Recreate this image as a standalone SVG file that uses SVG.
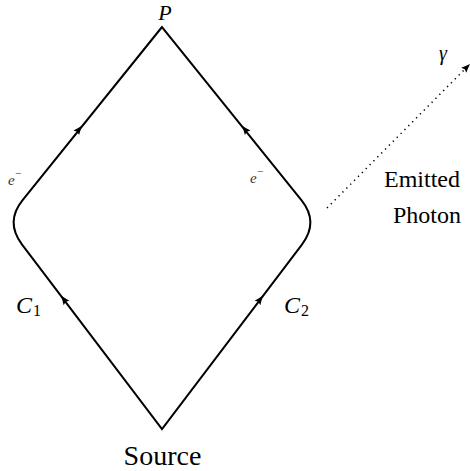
<svg xmlns="http://www.w3.org/2000/svg" width="470" height="471" viewBox="0 0 470 471">
<defs>
  <path id="arrowhead" fill="#000" d="M1.5,0 C-1.5,-1 -4.5,-2.4 -7.5,-3.6 L-6,0 L-7.5,3.6 C-4.5,2.4 -1.5,1 1.5,0 Z"/>
</defs>
<rect width="470" height="471" fill="#fff"/>
<g id="connectors" fill="none" stroke="#000">
  <path stroke-width="2" stroke-linejoin="miter" stroke-miterlimit="10" d="M162,27 L22.6,200.2 Q5,222 21.9,244.3 L162,429 L302.1,244.3 Q319,222 301.4,200.2 Z"/>
  <use href="#arrowhead" stroke="none" transform="translate(81,127) rotate(-51.2)"/>
  <use href="#arrowhead" stroke="none" transform="translate(243,127) rotate(-128.8)"/>
  <use href="#arrowhead" stroke="none" transform="translate(62,297) rotate(-127.2)"/>
  <use href="#arrowhead" stroke="none" transform="translate(262,297) rotate(-52.8)"/>
  <path stroke-width="1.5" stroke-dasharray="1.3 4.2" d="M327,208 L465,69"/>
  <use href="#arrowhead" stroke="none" transform="translate(469,65) rotate(-45.2)"/>
</g>
<g id="node-P">
  <text font-family="Liberation Serif" font-style="italic" x="165" y="20" font-size="22" text-anchor="middle">P</text>
</g>
<g id="node-source">
  <text font-family="Liberation Serif" x="162.5" y="465" font-size="28" text-anchor="middle">Source</text>
</g>
<g id="node-left">
  <text font-family="Liberation Serif" font-style="italic" x="8" y="185" font-size="15" fill="#333">e</text>
  <text font-family="Liberation Serif" x="15" y="177" font-size="11" fill="#333">−</text>
  <text font-family="Liberation Serif" font-style="italic" x="16" y="313" font-size="24">C</text>
  <text font-family="Liberation Serif" x="33" y="316" font-size="16">1</text>
</g>
<g id="node-right">
  <text font-family="Liberation Serif" font-style="italic" x="250" y="183" font-size="15" fill="#333">e</text>
  <text font-family="Liberation Serif" x="257" y="175" font-size="11" fill="#333">−</text>
  <text font-family="Liberation Serif" font-style="italic" x="284" y="313" font-size="24">C</text>
  <text font-family="Liberation Serif" x="301" y="316" font-size="16">2</text>
</g>
<g id="node-photon">
  <text font-family="Liberation Serif" font-style="italic" x="439" y="60" font-size="20">γ</text>
  <text font-family="Liberation Serif" x="422" y="187" font-size="24" text-anchor="middle">Emitted</text>
  <text font-family="Liberation Serif" x="427" y="223" font-size="24" text-anchor="middle">Photon</text>
</g>
</svg>
